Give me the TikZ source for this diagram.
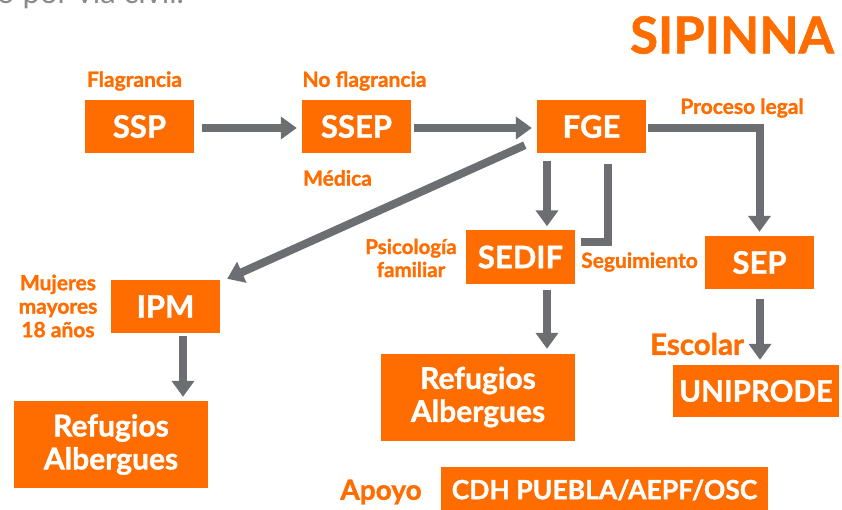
\documentclass[tikz,border=0pt]{standalone}
\usepackage{fontspec}
\setmainfont{Lato}[BoldFeatures={FakeBold=1.2}]
\usetikzlibrary{arrows.meta}
\definecolor{orng}{HTML}{FF6C00}
\definecolor{gry}{HTML}{6D6E71}
\definecolor{txtgray}{HTML}{8A8A8A}
\tikzset{
  box/.style={fill=orng, text=white, font=\fontsize{31}{33}\selectfont\bfseries, inner sep=0pt, minimum width=109pt, minimum height=53pt, anchor=center},
  bigbox/.style={box, font=\fontsize{30}{33}\selectfont\bfseries, align=center, minimum width=194pt, minimum height=87pt},
  lbl/.style={text=orng, font=\fontsize{21}{23.5}\selectfont\bfseries, inner sep=0pt, align=center},
  flow/.style={draw=gry, line width=8pt, -{Triangle[width=22pt,length=16pt]}},
  plain/.style={draw=gry, line width=8pt}
}
\begin{document}
\begin{tikzpicture}[x=1pt,y=-1pt]
\useasboundingbox (0,0) rectangle (842,510);
\clip (0,0) rectangle (842,510);
% cut-off text at top
\node[anchor=base west, inner sep=0pt, text=txtgray, font=\fontsize{31}{33}\selectfont] (topt) at (-3,4) {o por vía civil.};
% title
\node[text=orng, font=\fontsize{51}{55}\selectfont\bfseries, inner sep=0pt] (title) at (732,35) {SIPINNA};
% boxes
\node[box] (ssp) at (139.5,126.5) {SSP};
\node[box] (ssep) at (356.5,126.5) {SSEP};
\node[box] (fge) at (591.5,126.5) {FGE};
\node[box] (sedif) at (520.5,257) {SEDIF};
\node[box] (sep) at (759.5,262.5) {SEP};
\node[box] (ipm) at (165.5,306.5) {IPM};
\node[bigbox] (refl) at (111,444.5) {Refugios\\Albergues};
\node[bigbox] (refm) at (478,397) {Refugios\\Albergues};
\node[box, minimum width=166pt, minimum height=52pt, font=\fontsize{29.5}{31}\selectfont\bfseries] (uni) at (756,391) {UNIPRODE};
\node[box, minimum width=327pt, minimum height=46pt, font=\fontsize{26.5}{28}\selectfont\bfseries] (cdh) at (604.5,490) {CDH PUEBLA/AEPF/OSC};
% labels
\node[lbl] (flag) at (134.5,81) {Flagrancia};
\node[lbl] (noflag) at (364.5,81) {No flagrancia};
\node[lbl] (med) at (337.5,178) {Médica};
\node[lbl] (proc) at (742,108) {Proceso legal};
\node[lbl, font=\fontsize{20.5}{23}\selectfont\bfseries] (psi) at (411,258) {Psicología\\familiar};
\node[lbl] (seg) at (639.5,262) {Seguimiento};
\node[lbl] (muj) at (58,306) {Mujeres\\mayores\\18 años};
\node[lbl, font=\fontsize{29.5}{31}\selectfont\bfseries] (esc) at (697,344) {Escolar};
\node[lbl, font=\fontsize{28}{30}\selectfont\bfseries] (apo) at (381,492) {Apoyo};
% connectors
\draw[flow] ([xshift=8pt,yshift=-1.5pt]ssp.east) -- ([xshift=-5pt,yshift=-1.5pt]ssep.west);
\draw[flow] ([xshift=3pt,yshift=-1.5pt]ssep.east) -- ([xshift=-5pt,yshift=-1.5pt]fge.west);
\draw[flow] ([xshift=2pt,yshift=-1.5pt]fge.east) -| ([yshift=4pt]sep.north);
\draw[flow] ([xshift=-44.5pt,yshift=-8pt]fge.south) -- ([xshift=26.5pt,yshift=4pt]sedif.north);
\draw[plain] ([xshift=16.5pt,yshift=-11pt]fge.south) |- ([xshift=6pt,yshift=15pt]sedif.east);
\draw[flow] ([xshift=-12pt,yshift=8pt]fge.south west) -- ([xshift=7pt,yshift=1pt]ipm.north east);
\draw[flow] ([xshift=17.5pt,yshift=-3pt]ipm.south) -- ([xshift=72pt,yshift=4pt]refl.north);
\draw[flow] ([xshift=26.5pt,yshift=-6pt]sedif.south) -- ([xshift=69pt,yshift=4.5pt]refm.north);
\draw[flow] ([xshift=0.5pt,yshift=-10pt]sep.south) -- ([xshift=4pt,yshift=5pt]uni.north);
\end{tikzpicture}
\end{document}
